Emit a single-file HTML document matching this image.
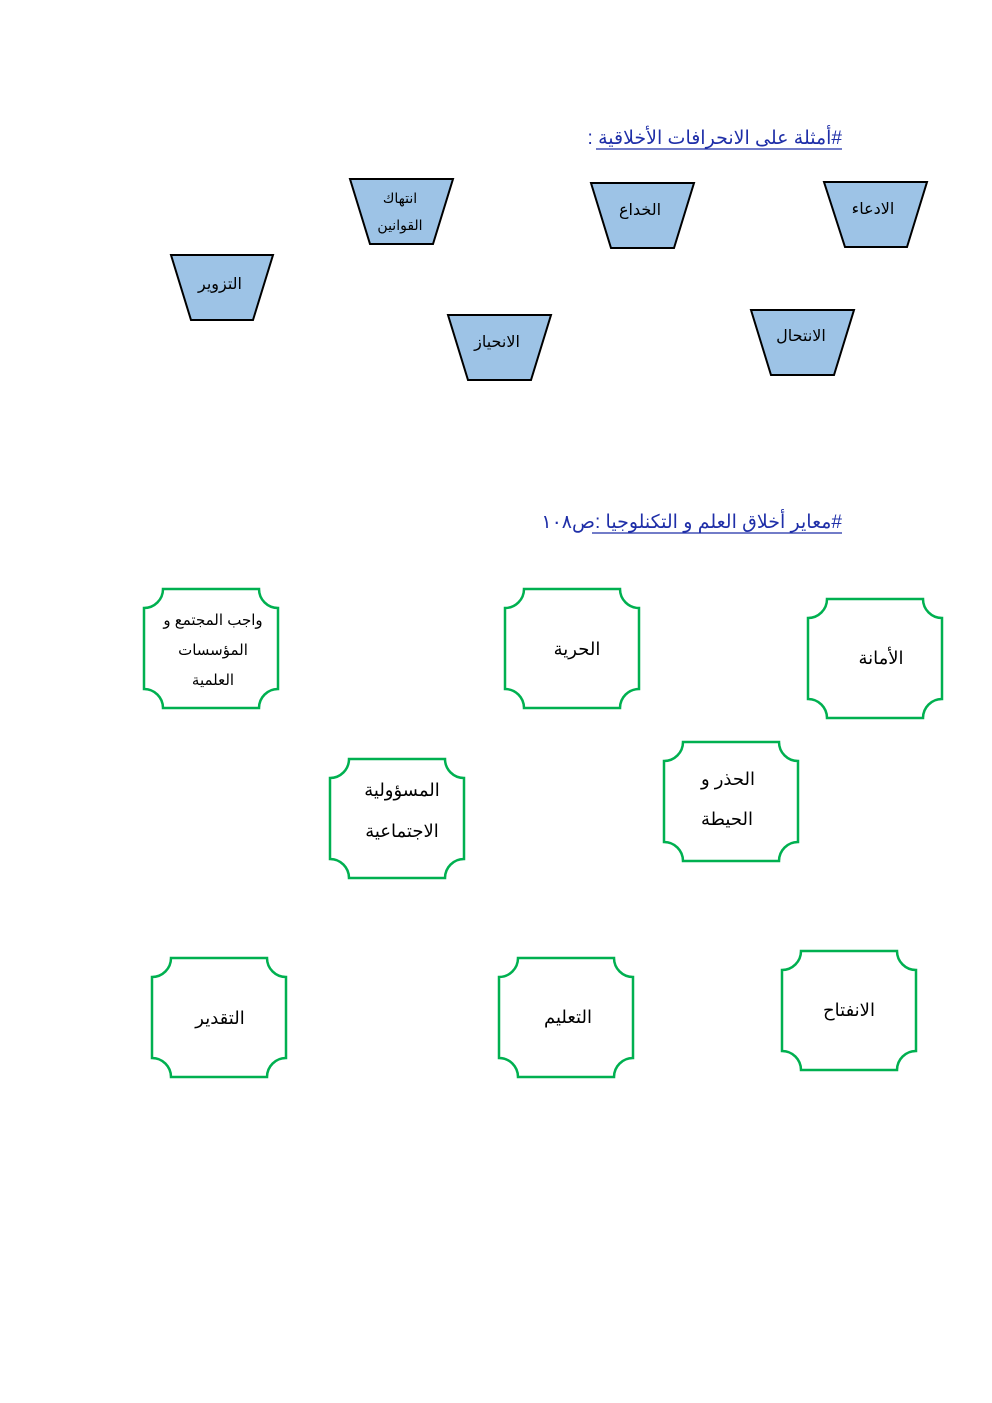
<!DOCTYPE html>
<html><head><meta charset="utf-8">
<style>
html,body{margin:0;padding:0;background:#fff;}
body{width:992px;height:1403px;position:relative;overflow:hidden;}
svg{position:absolute;left:0;top:0;}
text{font-family:"Liberation Sans","DejaVu Sans",sans-serif;}
</style></head><body>
<svg width="992" height="1403" viewBox="0 0 992 1403" xmlns="http://www.w3.org/2000/svg">
<g font-size="19" fill="#1f2fa8" direction="rtl">
<text x="842" y="144" text-anchor="start" direction="rtl" unicode-bidi="embed">#أمثلة على الانحرافات الأخلاقية :</text>
<line x1="596" y1="149" x2="842" y2="149" stroke="#1f2fa8" stroke-width="1.3"/>
<text x="842" y="528" text-anchor="start" direction="rtl" unicode-bidi="embed">#معاير أخلاق العلم و التكنلوجيا :<tspan fill="#1f2fa8">ص١٠٨</tspan></text>
<line x1="592" y1="533" x2="842" y2="533" stroke="#1f2fa8" stroke-width="1.3"/>
</g>
<g fill="#9dc3e6" stroke="#000" stroke-width="2">
<polygon points="350,179 453,179 433,244 370,244"/>
<polygon points="591,183 694,183 674,248 611,248"/>
<polygon points="824,182 927,182 907,247 845,247"/>
<polygon points="171,255 273,255 253,320 191,320"/>
<polygon points="448,315 551,315 531,380 468,380"/>
<polygon points="751,310 854,310 834,375 771,375"/>
</g>
<g font-size="16" fill="#000" text-anchor="middle">
<text x="400" y="203" font-size="14">انتهاك</text>
<text x="400" y="230" font-size="14">القوانين</text>
<text x="640" y="215">الخداع</text>
<text x="873" y="214">الادعاء</text>
<text x="220" y="289">التزوير</text>
<text x="497" y="347">الانحياز</text>
<text x="801" y="341">الانتحال</text>
</g>
<g fill="#fff" stroke="#00b050" stroke-width="2.5">
<path id="p" d="M163,589 H259 A19,19 0 0 0 278,608 V689 A19,19 0 0 0 259,708 H163 A19,19 0 0 0 144,689 V608 A19,19 0 0 0 163,589 Z"/>
<use href="#p" x="361" y="0"/>
<use href="#p" x="664" y="10"/>
<use href="#p" x="186" y="170"/>
<use href="#p" x="520" y="153"/>
<use href="#p" x="8" y="369"/>
<use href="#p" x="355" y="369"/>
<use href="#p" x="638" y="362"/>
</g>
<g font-size="18" fill="#000" text-anchor="middle">
<text x="213" y="625" font-size="15">واجب المجتمع و</text>
<text x="213" y="655" font-size="15">المؤسسات</text>
<text x="213" y="685" font-size="15">العلمية</text>
<text x="577" y="655">الحرية</text>
<text x="881" y="664">الأمانة</text>
<text x="402" y="796">المسؤولية</text>
<text x="402" y="837">الاجتماعية</text>
<text x="728" y="785">الحذر و</text>
<text x="727" y="825">الحيطة</text>
<text x="220" y="1024">التقدير</text>
<text x="568" y="1023">التعليم</text>
<text x="849" y="1016">الانفتاح</text>
</g>
</svg>
</body></html>
